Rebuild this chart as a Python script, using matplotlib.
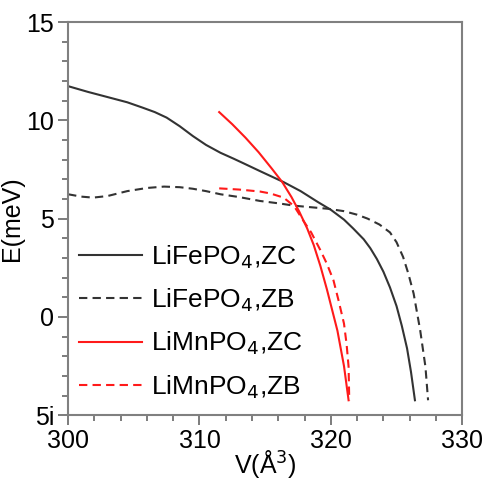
import numpy as np
import matplotlib
matplotlib.use('Agg')
import matplotlib.pyplot as plt
from matplotlib.ticker import MultipleLocator

plt.rcParams['font.family'] = ['Liberation Sans', 'DejaVu Sans']

# LiFePO4, ZC (black solid)
fe_zc_v = [300, 301.5, 303.2, 304.5, 305.7, 306.6, 307.5, 308.5, 309.5, 310.5, 311.6, 312.6, 313.4, 314.6,
           316.4, 317.7, 319, 320, 321, 321.7, 322.5, 323.0, 323.5, 324.0, 324.5, 325.0, 325.4, 325.8, 326.1, 326.4]
fe_zc_e = [11.74, 11.45, 11.15, 10.92, 10.64, 10.42, 10.14, 9.7, 9.2, 8.75, 8.35, 8.05, 7.8, 7.42,
           6.86, 6.4, 5.85, 5.45, 4.95, 4.5, 3.95, 3.5, 2.95, 2.3, 1.5, 0.55, -0.45, -1.6, -2.8, -4.24]

# LiFePO4, ZB (black dashed)
fe_zb_v = [300, 301, 301.9, 303, 304.5, 306, 307.3, 308.5, 309.5, 310.5, 311.6, 313, 314.6, 316, 317.2,
           318.5, 319.8, 321, 322, 322.8, 323.7, 324.5, 325.0, 325.5, 325.9, 326.3, 326.8, 327.2, 327.4]
fe_zb_e = [6.24, 6.12, 6.07, 6.15, 6.4, 6.56, 6.63, 6.6, 6.52, 6.4, 6.24, 6.1, 5.9, 5.78, 5.66,
           5.58, 5.5, 5.38, 5.2, 5.0, 4.7, 4.3, 3.8, 3.05, 2.2, 1.19, -0.68, -2.54, -4.24]

# LiMnPO4, ZC (red solid)
mn_zc_v = [311.5, 312.5, 313.5, 314.5, 315.5, 316.3, 317.0, 317.6, 318.2, 318.7, 319.2, 319.7, 320.1, 320.5, 321.0, 321.35]
mn_zc_e = [10.42, 9.8, 9.12, 8.38, 7.55, 6.86, 6.1, 5.35, 4.5, 3.65, 2.6, 1.4, 0.35, -0.7, -2.5, -4.24]

# LiMnPO4, ZB (red dashed)
mn_zb_v = [311.5, 313, 314.6, 315.4, 316.4, 317.2, 317.9, 318.5, 319.2, 319.7, 320.2, 320.6, 321.0, 321.2, 321.35, 321.4]
mn_zb_e = [6.54, 6.48, 6.38, 6.28, 6.07, 5.64, 4.9, 4.3, 3.4, 2.7, 1.86, 0.8, -0.34, -1.4, -2.54, -4.24]

labels = ['LiFePO$_4$,ZC', 'LiFePO$_4$,ZB', 'LiMnPO$_4$,ZC', 'LiMnPO$_4$,ZB']

fig = plt.figure(figsize=(4.83, 4.80), dpi=100)
ax = fig.add_axes([0.141, 0.135, 0.816, 0.819])

ax.plot(fe_zc_v, fe_zc_e, color='#333333', lw=1.5, label=labels[0])
ax.plot(fe_zb_v, fe_zb_e, color='#333333', lw=1.5, ls=(0, (4, 2.5)), label=labels[1])
ax.plot(mn_zc_v, mn_zc_e, color='#ff1a1a', lw=1.5, label=labels[2])
ax.plot(mn_zb_v, mn_zb_e, color='#ff1a1a', lw=1.5, ls=(0, (4, 2.5)), label=labels[3])

ax.set_xlim(300, 330)
ax.set_ylim(-5, 15)
ax.set_xticks([300, 310, 320, 330])
ax.set_yticks([-5, 0, 5, 10, 15])
ax.set_yticklabels(['5i', '0', '5', '10', '15'])
ax.xaxis.set_minor_locator(MultipleLocator(2))
ax.yaxis.set_minor_locator(MultipleLocator(1))
ax.tick_params(which='both', direction='out', top=False, right=False,
               color='#666666', labelsize=18, width=1.2, pad=3)
ax.tick_params(which='major', length=7)
ax.tick_params(which='minor', length=4)
for s in ax.spines.values():
    s.set_color('#808080')
    s.set_linewidth(1.5)

ax.set_xlabel('V(Å$^3$)', fontsize=18, labelpad=-4)
ax.set_ylabel('E(meV)', fontsize=18, labelpad=2)

ax.legend(loc='center left', frameon=False, fontsize=19, handlelength=2.4,
          handletextpad=0.35, labelspacing=0.6, borderaxespad=0,
          bbox_to_anchor=(0.0, 0.237))

fig.savefig('out.png', dpi=100)
